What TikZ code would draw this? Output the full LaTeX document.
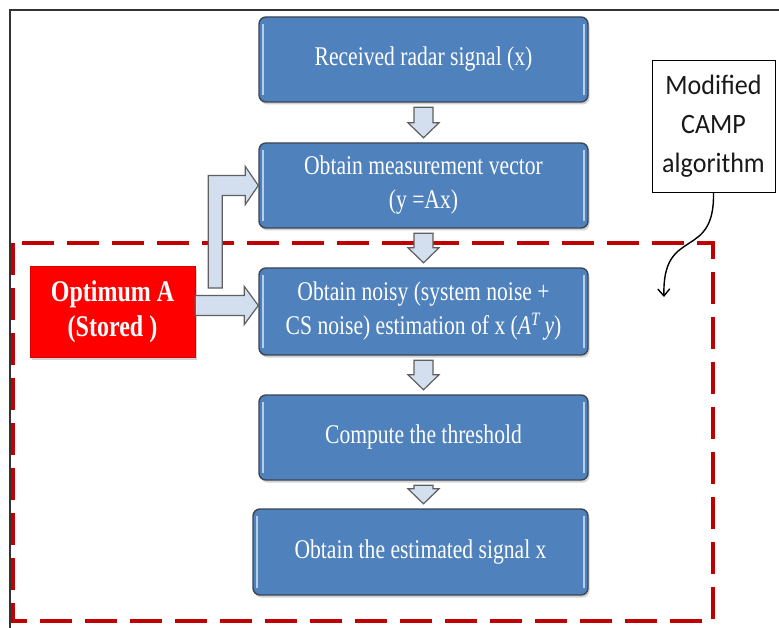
\documentclass[tikz,border=0pt]{standalone}
\usepackage{fontspec}
\newfontfamily\tnrfont{Liberation Serif}[FakeStretch=0.8]
\newfontfamily\calfont{Carlito}[FakeStretch=0.93]
\usetikzlibrary{shadows,arrows.meta,calc}
\definecolor{boxblue}{HTML}{4F81BD}
\definecolor{boxedge}{HTML}{3C4656}
\definecolor{dashred}{HTML}{C00000}
\definecolor{arrfill}{HTML}{D3DFEE}
\definecolor{arredge}{HTML}{5F5F5F}
\definecolor{bevelcol}{HTML}{B9CDE8}
\tikzset{
  bluebox/.style={draw=boxedge, line width=1.4pt, fill=boxblue, rounded corners=7pt,
    text=white, align=center, font=\tnrfont\fontsize{27}{34}\selectfont, inner sep=0pt,
    drop shadow={shadow xshift=1.5pt, shadow yshift=-2.5pt, opacity=0.35}},
  redbox/.style={fill=red, draw=red!85!black, line width=0.6pt, text=white, align=center,
    font=\tnrfont\bfseries\fontsize{30}{35}\selectfont, inner sep=0pt,
    drop shadow={shadow xshift=1.5pt, shadow yshift=-3pt, opacity=0.35}},
  notebox/.style={draw=black, line width=0.9pt, fill=white, align=center,
    font=\calfont\fontsize{28}{39}\selectfont, text=black!90, inner sep=0pt},
  blockarrow/.style={fill=arrfill, draw=arredge, line width=1.2pt, line join=miter},
  bevelline/.style={draw=bevelcol, line width=1.6pt},
  frameline/.style={draw=black!80, line width=1.2pt},
  regionline/.style={draw=dashred, line width=4pt, dash pattern=on 32pt off 13pt},
  callout/.style={draw=black, line width=1.4pt, -{Straight Barb[length=7pt,width=12pt]}}
}
\newcommand{\blockdown}[2]{%
  \filldraw[blockarrow] let \p1=([yshift=-4.5pt]#1.south), \p2=([yshift=4.5pt]#2.north) in
  (\x1-9.5pt,\y1) -- (\x1+9.5pt,\y1) -- (\x1+9.5pt,\y2+15pt) -- (\x1+15.5pt,\y2+15pt)
  -- (\x1,\y2) -- (\x1-15.5pt,\y2+15pt) -- (\x1-9.5pt,\y2+15pt) -- cycle;}
\begin{document}
\begin{tikzpicture}[x=1pt,y=-1pt]
\useasboundingbox (0,0) rectangle (779,628);
\fill[white] (0,0) rectangle (779,628);
% outer frame
\draw[frameline] (779,10) -- (10,10) -- (10,628);
% dashed region
\draw[regionline] (13,243) rectangle (713,621);

% boxes
\node[bluebox, minimum width=329pt, minimum height=85pt] (b1) at (423.5,59.5) {Received radar signal (x)};
\node[bluebox, minimum width=329pt, minimum height=85pt] (b2) at (423.5,185.5) {Obtain measurement vector\\(y =Ax)};
\node[bluebox, minimum width=329pt, minimum height=87pt] (b3) at (423.5,311.5) {Obtain noisy (system noise +\\CS noise) estimation of x ({\itshape A}\textsuperscript{\itshape T}\,{\itshape y})};
\node[bluebox, minimum width=329pt, minimum height=85pt] (b4) at (423.5,437.5) {Compute the threshold};
\node[bluebox, minimum width=335pt, minimum height=86pt] (b5) at (420.5,552) {Obtain the estimated signal x};
\foreach \n in {b1,b2,b3,b4,b5}{
  \draw[bevelline] ([xshift=4.5pt,yshift=-8pt]\n.north west) -- ([xshift=4.5pt,yshift=8pt]\n.south west);
  \draw[bevelline] ([xshift=-4.5pt,yshift=-8pt]\n.north east) -- ([xshift=-4.5pt,yshift=8pt]\n.south east);
}
\node[redbox, minimum width=165pt, minimum height=91pt] (opt) at (112.5,311.5) {Optimum A\\(Stored )};
\node[notebox, minimum width=123pt, minimum height=132pt] (cm) at (713.5,126) {Modified\\CAMP\\algorithm};

% down arrows
\blockdown{b1}{b2}
\blockdown{b2}{b3}
\blockdown{b3}{b4}
\blockdown{b4}{b5}

% straight arrow from stored A to box 3
\filldraw[blockarrow] let \p1=(opt.east), \p2=(b3.west) in
  (\x1,\y1+16pt) -- (\x2-14pt,\y1+16pt) -- (\x2-14pt,\y1+25pt) -- (\x2,\y1+6pt)
  -- (\x2-14pt,\y1-13pt) -- (\x2-14pt,\y1-4pt) -- (\x1,\y1-4pt) -- cycle;
% bent arrow from stored A to box 2
\filldraw[blockarrow] let \p1=(opt.east), \p2=(b2.west) in
  (\x1+13pt,\y1+23.5pt) -- (\x1+13pt,\y2+10pt) -- (\x2-13pt,\y2+10pt) -- (\x2-13pt,\y2+19pt)
  -- (\x2,\y2) -- (\x2-13pt,\y2-19pt) -- (\x2-13pt,\y2-10pt) -- (\x1+27pt,\y2-10pt)
  -- (\x1+27pt,\y1+23.5pt) -- cycle;

% callout curve
\coordinate (ctip) at (664,297);
\draw[callout] (cm.south) .. controls (715,262) and (662,225) .. (ctip);
\end{tikzpicture}
\end{document}
